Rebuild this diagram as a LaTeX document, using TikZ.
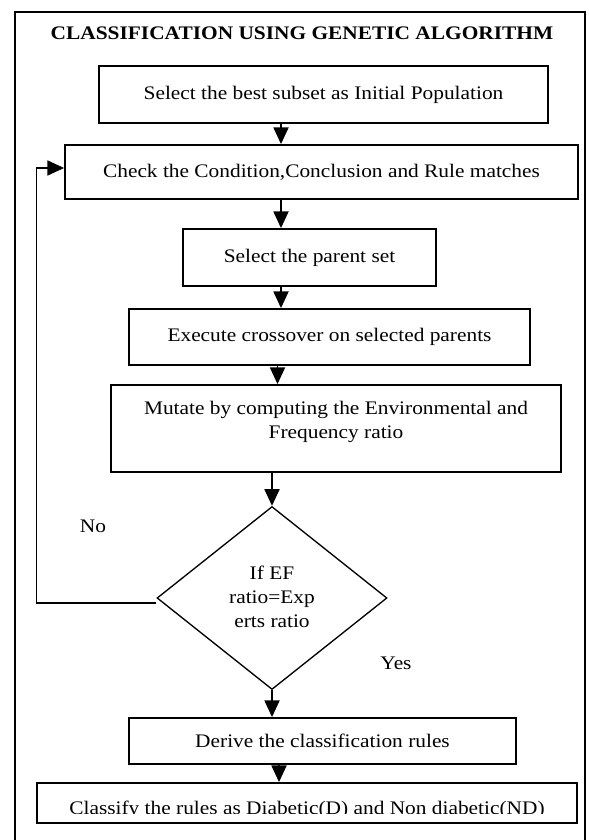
\documentclass[tikz,border=0pt]{standalone}
\usepackage{fontspec}
\setmainfont{Liberation Serif}[FakeStretch=1.115]
\usetikzlibrary{arrows.meta,shapes.geometric,calc}
\newcommand{\fs}{\fontsize{11.5pt}{14.5pt}\selectfont}
\tikzset{
  box/.style={draw, line width=1.1pt, rectangle, inner sep=0pt, align=center, font=\fs},
  txt/.style={inner sep=0pt, align=center, font=\fs},
  arr/.style={-{Triangle[length=10pt,width=9pt]}, line width=1.1pt},
  loopline/.style={-{Triangle[length=10pt,width=9pt]}, line width=0.9pt},
}
\begin{document}
\begin{tikzpicture}[x=0.6pt,y=-0.6pt]
\useasboundingbox (0,0) rectangle (588,840);
\clip (0,0) rectangle (588,840);
% outer frame
\draw[line width=1.2pt] (15,12) rectangle (585,860);
% title
\node[txt, font=\fs\bfseries] (title) at (302,33) {CLASSIFICATION USING GENETIC ALGORITHM};
% boxes
\node[box, minimum width=449*0.6pt, minimum height=57*0.6pt] (b1) at (323.5,94.5) {Select the best subset as Initial Population};
\node[box, minimum width=513*0.6pt, minimum height=54*0.6pt] (b2) at (321.5,172) {Check the Condition,Conclusion and Rule matches};
\node[box, minimum width=253*0.6pt, minimum height=57*0.6pt] (b3) at (309.5,257.5) {Select the parent set};
\node[box, minimum width=401*0.6pt, minimum height=56*0.6pt] (b4) at (329.5,337) {Execute crossover on selected parents};
\node[box, minimum width=450*0.6pt, minimum height=87*0.6pt] (b5) at (336,428.5) {};
\node[txt] (b5t) at (336,422) {Mutate by computing the Environmental and\\Frequency ratio};
\node[draw, diamond, line width=0.8pt, inner sep=0pt, align=center, font=\fs,
      minimum width=230*0.6pt, minimum height=183*0.6pt] (d) at (272,598) {};
\node[txt] (dt) at (272,597) {If EF\\ratio=Exp\\erts ratio};
\node[box, minimum width=387*0.6pt, minimum height=46*0.6pt] (b6) at (322.5,741) {Derive the classification rules};
\node[box, minimum width=540*0.6pt, minimum height=40*0.6pt] (b7) at (307,803) {};
\begin{scope}
  \clip (37,784) rectangle (577,813.5);
  \node[txt, anchor=base] (b7t) at (307,814) {Classify the rules as Diabetic(D) and Non diabetic(ND)};
\end{scope}
% labels
\node[txt] (no) at (93,526) {No};
\node[txt] (yes) at (396,663) {Yes};
% arrow x positions
\coordinate (xa) at (281,0);
\coordinate (xb) at (277.5,0);
\coordinate (xc) at (279,0);
\draw[arr] (b1.south -| xa) -- (b2.north -| xa);
\draw[arr] (b2.south -| xa) -- (b3.north -| xa);
\draw[arr] (b3.south -| xa) -- (b4.north -| xa);
\draw[arr] (b4.south -| xb) -- (b5.north -| xb);
\draw[arr] (b5.south -| d.north) -- (d.north);
\draw[arr] (d.south) -- (b6.north -| d.south);
\draw[arr] (b6.south -| xc) -- (b7.north -| xc);
% loop back
\draw[loopline] ([yshift=-3pt]d.west) -- ++(-120,0) |- ([yshift=2.4pt]b2.west);
\end{tikzpicture}
\end{document}
